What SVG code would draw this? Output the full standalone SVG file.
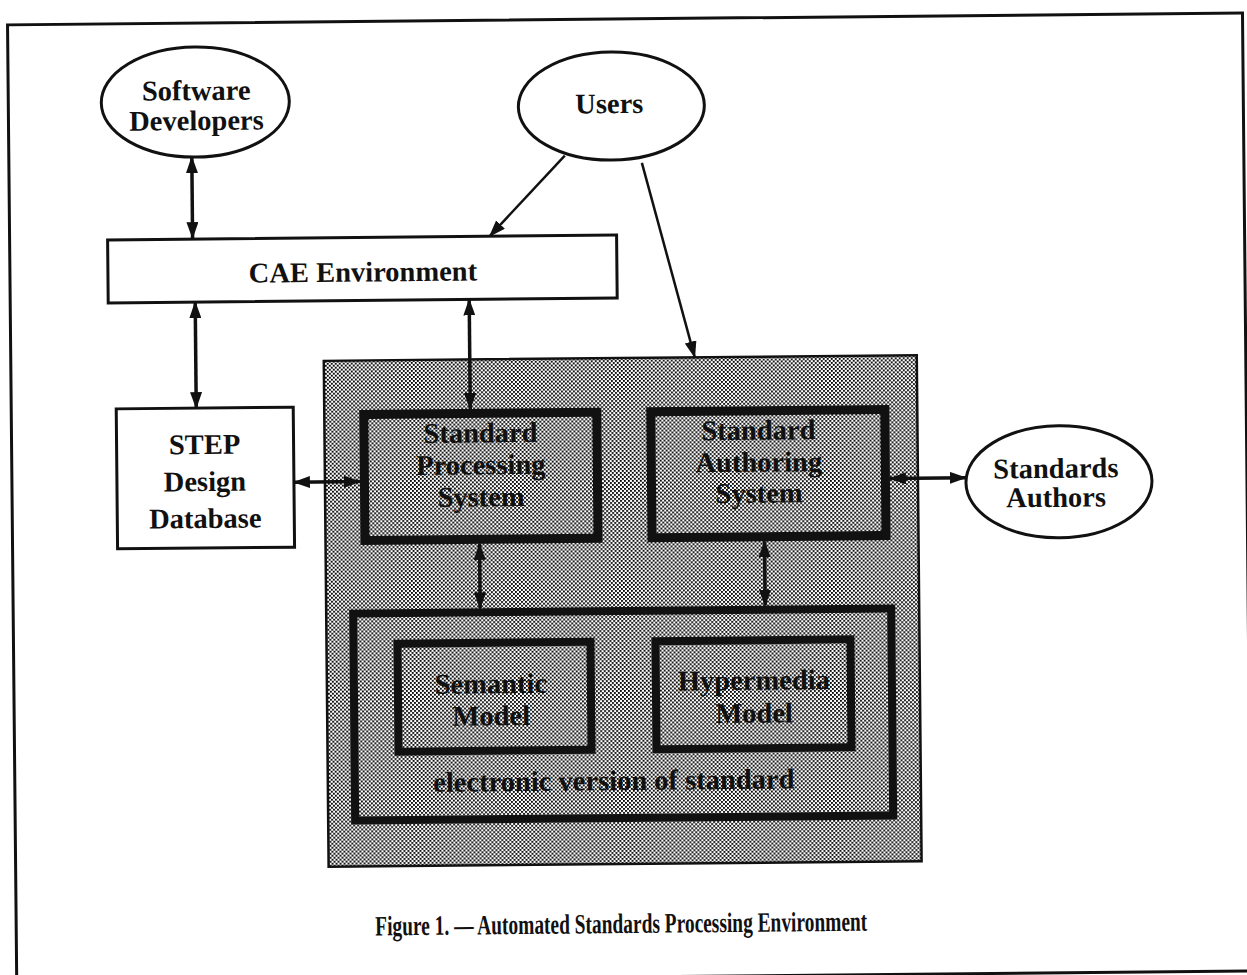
<svg xmlns="http://www.w3.org/2000/svg" width="1247" height="975" viewBox="0 0 1247 975">
  <defs>
    <style>
      .frame { fill: none; stroke: #111; stroke-width: 3; }
      .ell { fill: #fff; stroke: #111; stroke-width: 3; }
      .box { fill: #fff; stroke: #111; stroke-width: 3; }
      .shade { fill: url(#dots); stroke: #111; stroke-width: 2.5; }
      .thick { fill: none; stroke: #111; stroke-width: 9; }
      .mid { fill: none; stroke: #111; stroke-width: 8; }
      .lbl { font-family: "Liberation Serif", "Times New Roman", serif; font-weight: bold; font-size: 28.5px; fill: #111; text-anchor: middle; }
      .cap { font-size: 28px; }
      .conn { fill: none; stroke: #111; stroke-width: 3.5; marker-start: url(#head); marker-end: url(#head); }
      .one { fill: none; stroke: #111; stroke-width: 2.5; marker-end: url(#head); }
    </style>
    <!-- halftone dot fill used for the shaded system area -->
    <pattern id="dots" width="4" height="4" patternUnits="userSpaceOnUse">
      <rect width="4" height="4" fill="#fff"/>
      <rect width="1.85" height="1.85" fill="#000"/>
      <rect x="2" y="2" width="1.85" height="1.85" fill="#000"/>
    </pattern>
    <marker id="head" viewBox="0 0 17 12" refX="16" refY="6" markerWidth="17" markerHeight="12" markerUnits="userSpaceOnUse" orient="auto-start-reverse">
      <path d="M0,0 L17,6 L0,12 z" fill="#111"/>
    </marker>
  </defs>

  <g transform="rotate(-0.55 623 487)">
    <rect class="frame" x="12" y="19" width="1235" height="958"/>

    <!-- shaded area holding the processing and authoring systems -->
    <g id="shaded-area">
      <rect class="shade" x="325" y="358" width="593" height="506"/>
    </g>

    <g id="software-developers">
      <ellipse class="ell" cx="199" cy="98" rx="94" ry="55"/>
      <text class="lbl" x="200" y="96">Software</text>
      <text class="lbl" x="200" y="126">Developers</text>
    </g>

    <g id="users">
      <ellipse class="ell" cx="615" cy="106" rx="93" ry="54"/>
      <text class="lbl" x="613" y="113">Users</text>
    </g>

    <g id="cae-environment">
      <rect class="box" x="110" y="235" width="509" height="63"/>
      <text class="lbl" x="365" y="279">CAE Environment</text>
    </g>

    <g id="step-database">
      <rect class="box" x="117" y="404" width="177" height="140"/>
      <text class="lbl" x="205" y="450">STEP</text>
      <text class="lbl" x="205" y="487">Design</text>
      <text class="lbl" x="205" y="524">Database</text>
    </g>

    <g id="standard-processing">
      <rect class="thick" x="364.5" y="412" width="233" height="126"/>
      <text class="lbl" x="481" y="441">Standard</text>
      <text class="lbl" x="481" y="473">Processing</text>
      <text class="lbl" x="481" y="505">System</text>
    </g>

    <g id="standard-authoring">
      <rect class="thick" x="651.5" y="412" width="234" height="126"/>
      <text class="lbl" x="759" y="441">Standard</text>
      <text class="lbl" x="759" y="473">Authoring</text>
      <text class="lbl" x="759" y="504">System</text>
    </g>

    <g id="standards-authors">
      <ellipse class="ell" cx="1059" cy="486" rx="93" ry="56"/>
      <text class="lbl" x="1056" y="482">Standards</text>
      <text class="lbl" x="1056" y="511">Authors</text>
    </g>

    <g id="electronic-standard">
      <rect class="mid" x="352" y="611" width="538" height="207"/>
      <text class="lbl" x="611" y="790">electronic version of standard</text>
    </g>

    <g id="semantic-model">
      <rect class="mid" x="396" y="641.5" width="193" height="108"/>
      <text class="lbl" x="489" y="692">Semantic</text>
      <text class="lbl" x="489" y="724">Model</text>
    </g>

    <g id="hypermedia-model">
      <rect class="mid" x="654" y="641.5" width="195" height="108"/>
      <text class="lbl" x="752" y="691">Hypermedia</text>
      <text class="lbl" x="752" y="724">Model</text>
    </g>

    <g id="connectors">
      <path class="conn" d="M195,153 L195,234"/>
      <path class="conn" d="M197,298 L197,404"/>
      <path class="conn" d="M471,298 L471,407.5"/>
      <path class="conn" d="M294,479 L360,479"/>
      <path class="conn" d="M479,542.5 L479,607"/>
      <path class="conn" d="M764,542.5 L764,607"/>
      <path class="conn" d="M890,481 L966,481"/>
      <path class="one" d="M568,155 L492,235"/>
      <path class="one" d="M645,163 L696,358"/>
    </g>

    <text class="lbl cap" x="617" y="933" textLength="492" lengthAdjust="spacingAndGlyphs">Figure 1. — Automated Standards Processing Environment</text>
  </g>
</svg>
